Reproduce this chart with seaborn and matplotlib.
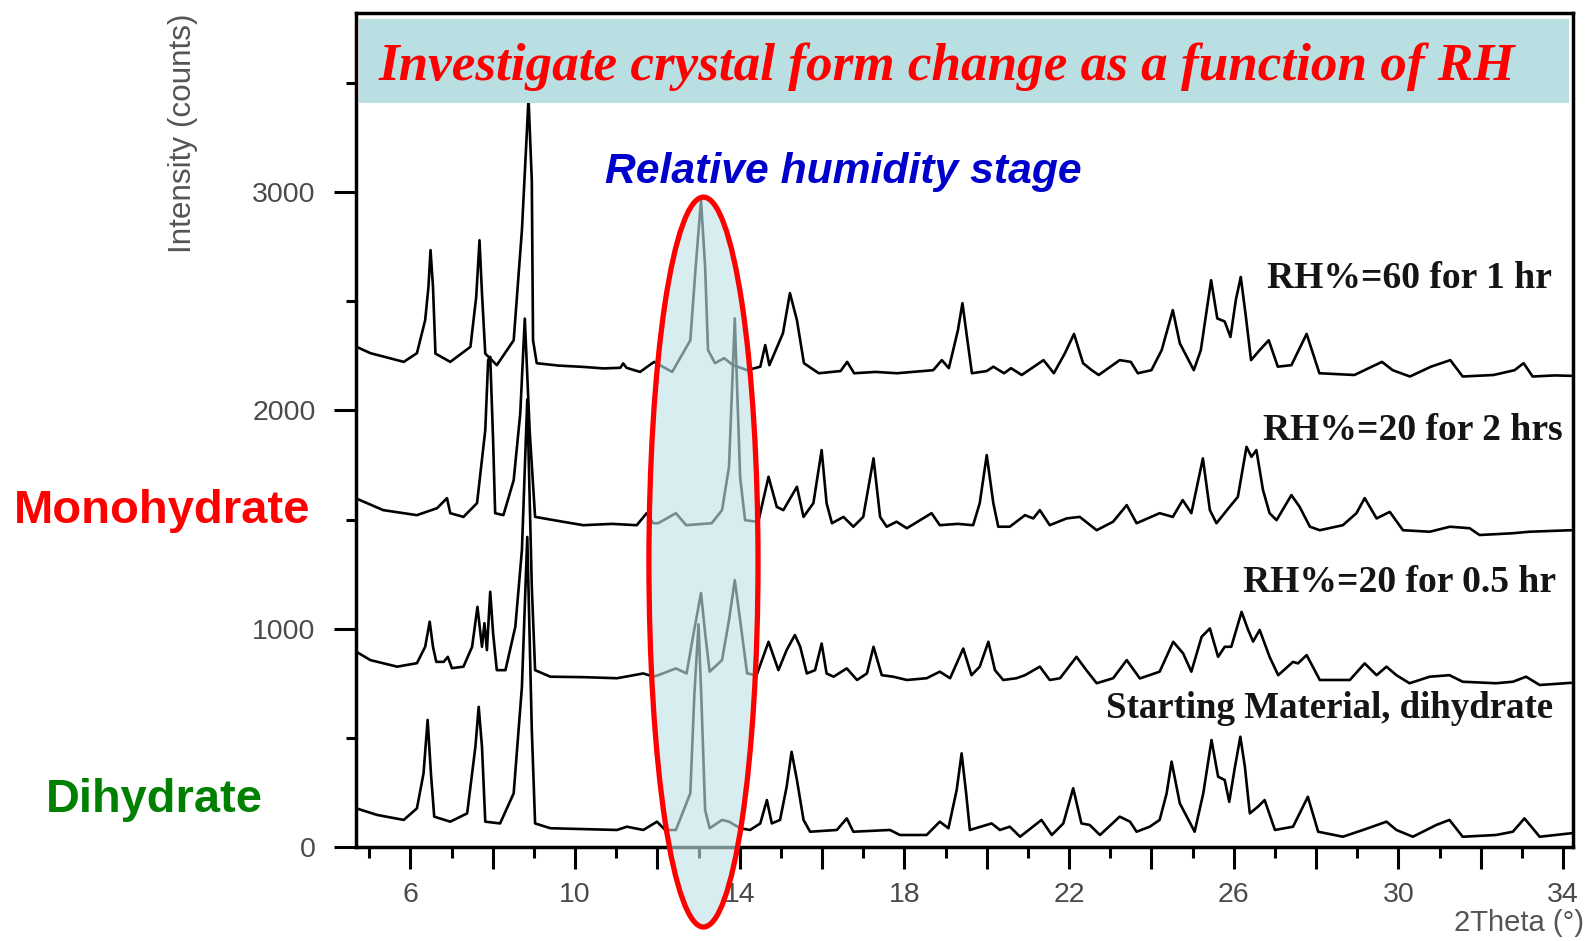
import numpy as np
import pandas as pd
import matplotlib
matplotlib.use("Agg")
import matplotlib.pyplot as plt
import seaborn as sns
from matplotlib.patches import Ellipse, Rectangle
from matplotlib.ticker import FixedLocator, FuncFormatter

# ---------------- data ----------------
labels = ["RH%=60 for 1 hr", "RH%=20 for 2 hrs", "RH%=20 for 0.5 hr",
          "Starting Material, dihydrate"]

rh60_x = [4.69, 5.03, 5.84, 6.16, 6.36, 6.44, 6.49, 6.55, 6.61, 6.97, 7.46, 7.60, 7.68, 7.74, 7.82,
          8.10, 8.51, 8.71, 8.82, 8.87, 8.95, 8.98, 9.07, 9.60, 10.20, 10.70, 11.10, 11.17, 11.25,
          11.58, 11.92, 12.36, 12.80, 12.93, 13.06, 13.16, 13.23, 13.40, 13.62, 13.84, 14.18, 14.50,
          14.62, 14.72, 15.05, 15.22, 15.39, 15.56, 15.92, 16.45, 16.61, 16.78, 17.30, 17.82, 18.70,
          18.91, 19.08, 19.30, 19.41, 19.51, 19.64, 20.00, 20.16, 20.42, 20.59, 20.85, 21.38, 21.63,
          21.90, 22.12, 22.34, 22.55, 22.72, 23.23, 23.50, 23.67, 24.00, 24.25, 24.52, 24.69, 25.03,
          25.20, 25.45, 25.60, 25.78, 25.92, 26.05, 26.17, 26.29, 26.42, 26.63, 26.85, 27.07, 27.40,
          27.77, 28.08, 28.50, 28.93, 29.60, 29.86, 30.28, 30.79, 31.26, 31.56, 32.31, 32.82, 33.04,
          33.26, 33.80, 34.20]
rh60_y = [2291, 2262, 2222, 2262, 2413, 2566, 2734, 2566, 2260, 2222, 2291, 2520, 2779, 2535, 2260,
          2207, 2321, 2825, 3237, 3430, 3054, 2321, 2216, 2205, 2199, 2192, 2195, 2215, 2195,
          2176, 2222, 2176, 2321, 2656, 2962, 2656, 2276, 2216, 2239, 2207, 2184, 2200,
          2299, 2207, 2353, 2537, 2413, 2216, 2170, 2180, 2222, 2170, 2176, 2170, 2184,
          2230, 2193, 2367, 2491, 2350, 2170, 2180, 2200, 2170, 2193, 2162, 2230, 2170,
          2262, 2350, 2216, 2184, 2162, 2230, 2222, 2170, 2184, 2276, 2459, 2307, 2184,
          2276, 2596, 2421, 2407, 2336, 2505, 2611, 2436, 2230, 2276, 2321, 2200, 2207,
          2350, 2170, 2166, 2162, 2222, 2184, 2155, 2200, 2230, 2155, 2162, 2184, 2216,
          2155, 2160, 2158]

rh20_2h_x = [4.69, 5.34, 6.16, 6.65, 6.89, 6.97, 7.29, 7.62, 7.82, 7.89, 7.94, 8.01, 8.06, 8.26, 8.51,
             8.67, 8.78, 8.90, 9.03, 9.70, 10.20, 10.90, 11.50, 11.74, 11.90, 12.02, 12.45, 12.70,
             13.32, 13.57, 13.74, 13.88, 14.01, 14.13, 14.45, 14.70, 14.90, 15.06, 15.39, 15.55,
             15.79, 15.99, 16.11, 16.24, 16.52, 16.76, 17.00, 17.25, 17.41, 17.57, 17.81, 18.06,
             18.66, 18.86, 19.30, 19.67, 19.83, 20.00, 20.16, 20.28, 20.56, 20.93, 21.13, 21.29,
             21.53, 21.94, 22.26, 22.67, 23.07, 23.40, 23.64, 24.20, 24.52, 24.76, 24.97, 25.25,
             25.42, 25.58, 25.90, 26.10, 26.31, 26.43, 26.55, 26.71, 26.87, 27.04, 27.40, 27.60,
             27.85, 28.09, 28.65, 28.98, 29.18, 29.47, 29.79, 30.11, 30.76, 31.25, 31.73, 31.97,
             32.77, 33.18, 34.20]
rh20_2h_y = [1596, 1543, 1520, 1552, 1598, 1529, 1512, 1575, 1909, 2230, 2245, 1864, 1529, 1520, 1680,
             1987, 2420, 1900, 1512, 1490, 1474, 1480, 1474, 1529, 1483, 1483, 1529, 1474,
             1483, 1543, 1741, 2421, 1694, 1497, 1489, 1696, 1558, 1543, 1650, 1512,
             1575, 1818, 1575, 1483, 1512, 1467, 1512, 1780, 1512, 1467, 1490, 1460,
             1529, 1474, 1480, 1474, 1575, 1795, 1575, 1467, 1467, 1520, 1505, 1543,
             1474, 1505, 1512, 1451, 1490, 1566, 1483, 1529, 1512, 1589, 1529, 1780,
             1543, 1483, 1558, 1604, 1833, 1787, 1818, 1635, 1529, 1497, 1612, 1558,
             1467, 1451, 1474, 1529, 1598, 1505, 1535, 1451, 1444, 1467, 1460, 1429,
             1437, 1444, 1451]

rh20_05h_x = [4.69, 5.03, 5.68, 6.16, 6.36, 6.47, 6.55, 6.63, 6.81, 6.91, 7.01, 7.29, 7.50, 7.63, 7.74,
              7.80, 7.86, 7.94, 8.01, 8.10, 8.31, 8.55, 8.71, 8.84, 8.95, 9.03, 9.40, 10.20, 11.02,
              11.66, 11.90, 12.02, 12.45, 12.71, 12.88, 13.06, 13.16, 13.27, 13.57, 13.74, 13.88,
              14.01, 14.18, 14.41, 14.70, 14.94, 15.14, 15.34, 15.47, 15.63, 15.83, 15.99, 16.11,
              16.28, 16.60, 16.85, 17.09, 17.25, 17.45, 17.73, 18.06, 18.54, 18.86, 19.11, 19.43,
              19.63, 19.83, 20.04, 20.20, 20.40, 20.72, 20.93, 21.29, 21.53, 21.78, 22.18, 22.42,
              22.67, 23.07, 23.40, 23.72, 24.20, 24.53, 24.77, 24.97, 25.22, 25.42, 25.62, 25.78,
              25.94, 26.19, 26.35, 26.47, 26.63, 26.87, 27.08, 27.44, 27.56, 27.77, 28.09, 28.82,
              29.18, 29.47, 29.71, 29.95, 30.27, 30.76, 31.24, 31.56, 32.37, 32.78, 33.10, 33.43,
              34.20]
rh20_05h_y = [894, 856, 826, 842, 917, 1032, 917, 848, 848, 871, 819, 826, 917, 1100, 917,
              1025, 902, 1169, 979, 810, 810, 1009, 1360, 2050, 1192, 810, 780, 778, 773,
              795, 780, 787, 818, 795, 979, 1163, 979, 803, 856, 1039, 1222,
              1039, 795, 787, 940, 810, 902, 971, 917, 795, 810, 932, 795,
              780, 818, 765, 795, 917, 787, 780, 765, 773, 803, 773, 909,
              787, 826, 940, 810, 765, 773, 787, 826, 765, 773, 871, 810,
              750, 773, 856, 772, 803, 940, 887, 803, 963, 1001, 871, 917,
              917, 1077, 994, 941, 994, 871, 787, 848, 841, 879, 765, 765,
              841, 787, 826, 787, 750, 780, 787, 757, 750, 757, 780, 742,
              752]

start_x = [4.69, 5.19, 5.84, 6.16, 6.32, 6.42, 6.50, 6.58, 6.97, 7.38, 7.58, 7.66, 7.74, 7.82, 8.18,
           8.51, 8.71, 8.84, 8.95, 9.03, 9.40, 10.20, 11.02, 11.26, 11.66, 11.99, 12.19, 12.45,
           12.80, 12.90, 13.00, 13.07, 13.16, 13.27, 13.57, 13.74, 14.01, 14.25, 14.50, 14.66,
           14.78, 14.98, 15.14, 15.26, 15.39, 15.55, 15.71, 16.36, 16.60, 16.76, 17.65, 17.89,
           18.54, 18.86, 19.07, 19.27, 19.39, 19.50, 19.59, 20.12, 20.32, 20.56, 20.81, 21.33,
           21.58, 21.86, 22.10, 22.30, 22.50, 22.75, 23.23, 23.48, 23.64, 23.96, 24.20, 24.37,
           24.49, 24.69, 25.05, 25.26, 25.46, 25.62, 25.78, 25.89, 26.03, 26.16, 26.27, 26.39,
           26.59, 26.75, 27.00, 27.44, 27.80, 28.05, 28.65, 29.14, 29.71, 29.95, 30.35, 30.92,
           31.24, 31.56, 32.37, 32.78, 33.06, 33.43, 34.20]
start_y = [177, 147, 124, 177, 337, 582, 337, 139, 116, 154, 459, 642, 459, 116, 108,
           246, 734, 1420, 536, 108, 86, 82, 78, 93, 78, 116, 78, 78,
           246, 704, 1020, 673, 169, 86, 124, 116, 86, 78, 108, 215,
           108, 124, 276, 436, 307, 124, 70, 78, 131, 70, 78, 55,
           55, 116, 86, 261, 429, 246, 78, 108, 78, 93, 47, 124,
           55, 108, 269, 108, 101, 55, 139, 116, 70, 93, 124, 246,
           391, 200, 70, 246, 490, 322, 307, 207, 368, 505, 368, 154,
           185, 215, 78, 93, 230, 70, 47, 78, 116, 78, 47, 101,
           124, 47, 55, 70, 131, 47, 63]

xticks_major = list(range(6, 35, 2))
xticks_minor = list(range(5, 35, 2))
xtick_labels = [6, 10, 14, 18, 22, 26, 30, 34]
yticks_major = [0, 1000, 2000, 3000]
yticks_minor = [500, 1500, 2500, 3500]

# ---------------- figure ----------------
W, H = 1588, 941
sns.set_theme(style="ticks")
plt.rcParams["font.family"] = ["Liberation Sans", "DejaVu Sans"]

fig = plt.figure(figsize=(W / 100, H / 100), dpi=100)
fig.patch.set_facecolor("white")
ax = fig.add_axes([356 / W, 1 - 847 / H, 1217 / W, 834 / H])
ax.set_facecolor("white")

frames = []
for name, xs, ys in zip(labels, [rh60_x, rh20_2h_x, rh20_05h_x, start_x],
                        [rh60_y, rh20_2h_y, rh20_05h_y, start_y]):
    frames.append(pd.DataFrame({"two_theta": xs, "intensity": ys, "trace": name}))
df = pd.concat(frames, ignore_index=True)

sns.lineplot(data=df, x="two_theta", y="intensity", units="trace", estimator=None,
             sort=False, color="black", lw=1.9, ax=ax, legend=False)

ax.set_xlim(4.68, 34.24)
ax.set_ylim(0, 3820)
ax.set_xlabel("")
ax.set_ylabel("")

for s in ax.spines.values():
    s.set_visible(True)
    s.set_linewidth(2.5)
    s.set_color("black")

ax.xaxis.set_major_locator(FixedLocator(xticks_major))
ax.xaxis.set_minor_locator(FixedLocator(xticks_minor))
ax.xaxis.set_major_formatter(FuncFormatter(
    lambda v, p: str(int(round(v))) if int(round(v)) in xtick_labels else ""))
ax.yaxis.set_major_locator(FixedLocator(yticks_major))
ax.yaxis.set_minor_locator(FixedLocator(yticks_minor))
ax.yaxis.set_major_formatter(FuncFormatter(lambda v, p: f"{int(v)}"))

tick_col = "#4a4a4a"
ax.tick_params(axis="x", which="major", direction="out", length=16, width=2.2,
               pad=9, labelsize=20.5, labelcolor=tick_col, color="black")
ax.tick_params(axis="x", which="minor", direction="out", length=8, width=2.2, color="black")
ax.tick_params(axis="y", which="major", direction="out", length=16, width=2.2,
               pad=13, labelsize=20.5, labelcolor=tick_col, color="black")
ax.tick_params(axis="y", which="minor", direction="out", length=7.5, width=2.2, color="black")

# Highlight ellipse (relative humidity stage)
ell_fill = Ellipse((13.12, 1305), 2.65, 3343, facecolor="#bfe2e6", edgecolor="none",
                   alpha=0.62, zorder=3, clip_on=False)
ell_edge = Ellipse((13.12, 1305), 2.65, 3343, facecolor="none", edgecolor="#ff0000",
                   lw=3.8, zorder=4, clip_on=False)
ax.add_patch(ell_fill)
ax.add_patch(ell_edge)

# Banner
banner = Rectangle((0.0025, 0.892), 0.9945, 0.101, transform=ax.transAxes,
                   facecolor="#b9dfe2", edgecolor="none", zorder=5, clip_on=False)
ax.add_patch(banner)


def ftext(x, y, s, **kw):
    return fig.text(x / W, 1 - y / H, s, **kw)


fits = []
t = ftext(947, 80, "Investigate crystal form change as a function of RH", ha="center",
          va="baseline", color="#ff0000", fontsize=38, style="italic", weight="bold",
          family=["Liberation Serif", "DejaVu Serif"], zorder=10)
fits.append((t, 1136, "w"))
t = ftext(843, 183, "Relative humidity stage", ha="center", va="baseline", color="#0000cc",
          fontsize=30, style="italic", weight="bold", zorder=10)
fits.append((t, 475, "w"))
t = ftext(14, 523, "Monohydrate", ha="left", va="baseline", color="#ff0000", fontsize=32,
          weight="bold")
fits.append((t, 297, "w"))
t = ftext(46, 812, "Dihydrate", ha="left", va="baseline", color="#008000", fontsize=32,
          weight="bold")
fits.append((t, 217, "w"))

label_pos = [(1267, 288, 285), (1263, 440, 300), (1243, 592, 314), (1106, 718, 448)]
for lab, (lx, ly, lw_) in zip(labels, label_pos):
    t = ftext(lx, ly, lab, ha="left", va="baseline", color="#151515", fontsize=24,
              family=["Liberation Serif", "DejaVu Serif"], weight="bold", zorder=10)
    fits.append((t, lw_, "w"))

t = ftext(183, 133, "Intensity (counts)", ha="center", va="center", rotation=90,
          color="#555555", fontsize=18)
fits.append((t, 240, "h"))
ftext(1584, 931, "2Theta (°)", ha="right", va="baseline", color="#555555", fontsize=21)

for _ in range(2):
    fig.canvas.draw()
    r = fig.canvas.get_renderer()
    for t, target, mode in fits:
        bb = t.get_window_extent(r)
        cur = bb.width if mode == "w" else bb.height
        t.set_fontsize(t.get_fontsize() * target / cur)

fig.savefig("out.png", dpi=100, facecolor="white")
